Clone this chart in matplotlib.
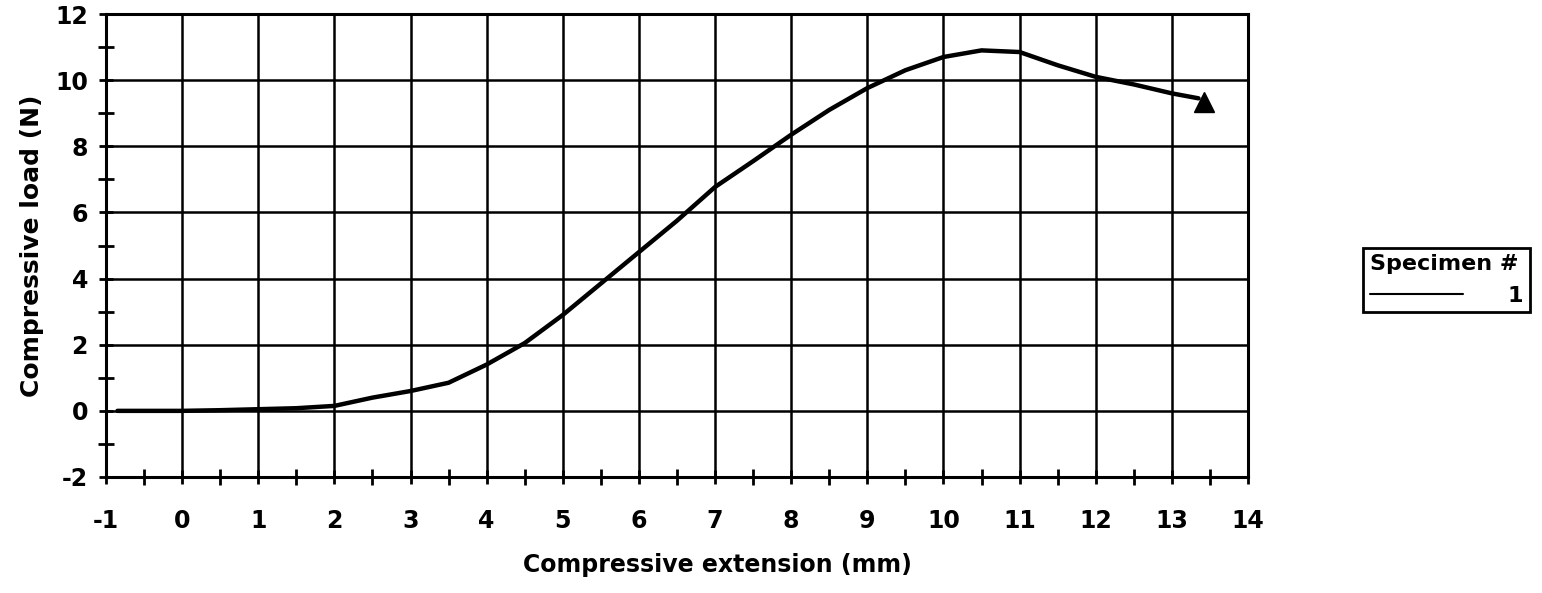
import numpy as np
import matplotlib.pyplot as plt
from matplotlib.ticker import MultipleLocator

# curve
extension = [-0.85, -0.5, 0, 0.5, 1, 1.5, 2, 2.5, 3, 3.5, 4, 4.5, 5, 5.5, 6,
             6.5, 7, 7.5, 8, 8.5, 9, 9.5, 10, 10.5, 11, 11.5, 12, 12.5, 13, 13.35]
load = [0, 0, 0, 0.02, 0.05, 0.08, 0.15, 0.4, 0.6, 0.85, 1.4, 2.05, 2.9, 3.85, 4.8,
        5.75, 6.77, 7.55, 8.35, 9.1, 9.76, 10.3, 10.7, 10.9, 10.85, 10.45, 10.1, 9.87, 9.6, 9.45]
end_point = (13.42, 9.35)
specimen = "1"

plt.rcParams['font.family'] = ['DejaVu Sans']
plt.rcParams['axes.unicode_minus'] = False

fig = plt.figure(figsize=(15.42, 5.93), dpi=100)
ax = fig.add_axes([106 / 1542, 1 - 477 / 593, 1142 / 1542, 463 / 593])

line, = ax.plot(extension, load, color='black', linewidth=3.2, solid_capstyle='round', zorder=3)
ax.plot(*end_point, marker='^', color='black', markersize=14, zorder=4)

ax.set_xlim(-1, 14)
ax.set_ylim(-2, 12)
ax.xaxis.set_major_locator(MultipleLocator(1))
ax.xaxis.set_minor_locator(MultipleLocator(0.5))
ax.yaxis.set_major_locator(MultipleLocator(2))
ax.yaxis.set_minor_locator(MultipleLocator(1))

ax.grid(True, which='major', color='black', linewidth=1.8)
for s in ax.spines.values():
    s.set_linewidth(2.2)

ax.tick_params(which='both', direction='inout', width=2, colors='black')
ax.tick_params(which='major', length=10, labelsize=17)
ax.tick_params(which='minor', length=12)
ax.tick_params(axis='x', which='major', pad=18)
ax.tick_params(axis='y', which='major', pad=8)
for lab in ax.get_xticklabels() + ax.get_yticklabels():
    lab.set_fontweight('bold')

ax.set_xlabel('Compressive extension (mm)', fontsize=17, fontweight='semibold')
ax.set_ylabel('Compressive load (N)', fontsize=18, fontweight='semibold')
ax.xaxis.set_label_coords((717 - 106) / 1142, -0.165)
ax.yaxis.set_label_coords(-0.054, 0.5)

leg = fig.legend([line], [specimen], title='Specimen #', loc='center left',
                 bbox_to_anchor=(1352 / 1542, 1 - 280 / 593),
                 fontsize=16, title_fontproperties={'size': 16, 'weight': 'bold'},
                 alignment='left', handlelength=4.2, handletextpad=2.0,
                 fancybox=False, framealpha=1, edgecolor='black', borderpad=0.3)
leg.get_frame().set_linewidth(2)
leg.get_lines()[0].set_linewidth(1.5)
for t in leg.get_texts():
    t.set_fontweight('bold')

fig.savefig('out.png', dpi=100)
